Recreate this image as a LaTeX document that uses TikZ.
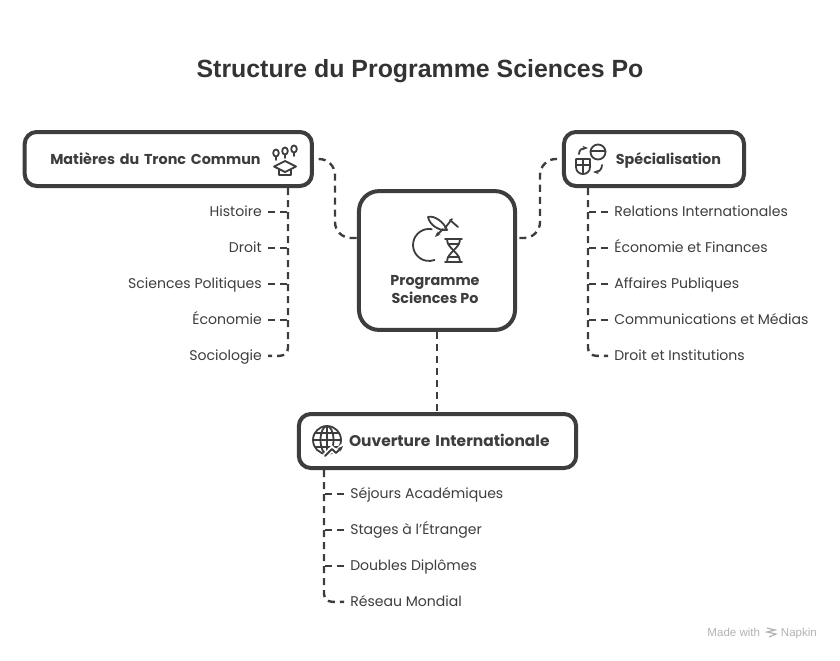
\documentclass[tikz,border=0pt]{standalone}
\usepackage{fontspec}
\setmainfont{Poppins}
\newfontfamily\titlefont{Liberation Sans}
\usetikzlibrary{calc,arrows.meta}
\tikzset{
	boxmain/.style={draw=black!76, fill=white, line width=1mm, rounded corners=0.3cm, minimum height=1.35cm, inner ysep=0pt, text height=2ex, text depth=0.5ex, font=\fontsize{10.2}{13}\selectfont\bfseries, text=black!76},
	boxitem/.style={inner sep=0.15cm, yshift=-0.02cm, text height=1.7ex, text depth=0.5ex, font=\fontsize{10}{12}\selectfont, text=black!76},
	link/.style={line width=0.6mm, color=black!76, dash pattern=on 1.75mm off 1.25mm},
	trunk/.style={link, rounded corners=0.2cm},
	icon/.style={line width=0.45mm, color=black!76, line cap=round, line join=round}
}

\begin{document}
\begin{tikzpicture}[x=0.025cm, y=-0.025cm]
		%%%%% START %%%%%
		\useasboundingbox (0, 0) rectangle (840, 660);
		
		\node[font=\titlefont\fontsize{17.7}{20}\selectfont\bfseries, text=black!80] (title) at (420, 71) {Structure du Programme Sciences Po};
		
		\node[boxmain, minimum width=7.18cm, text width=5.9cm, inner xsep=0.64cm, align=left] (tronc) at (168.3, 159) {Matières du Tronc Commun};
		\node[boxmain, minimum width=4.5cm, text width=3.35cm, inner xsep=0.575cm, align=right] (special) at (654, 159) {Spécialisation};
		\node[boxmain, minimum width=3.9cm, minimum height=3.47cm, rounded corners=0.5cm] (prog) at (437, 260.5) {};
		\node[boxmain, minimum width=6.93cm, text width=5.6cm, inner xsep=0.665cm, align=right, font=\fontsize{11}{13}\selectfont\bfseries] (ouverture) at (437.5, 441) {Ouverture Internationale};
		\node[boxmain, draw=none, fill=none, minimum height=0pt, align=center] (progtext) at (435, 298) {Programme\\Sciences Po};
		
		% left list
		\node[boxitem, anchor=east] (histoire) at (268, 211) {Histoire};
		\node[boxitem, anchor=east] (droit) at (268, 247) {Droit};
		\node[boxitem, anchor=east] (sciencespo) at (268, 283) {Sciences Politiques};
		\node[boxitem, anchor=east] (economie) at (268, 319) {Économie};
		\node[boxitem, anchor=east] (socio) at (268, 355) {Sociologie};
		\coordinate (troncdrop) at (288, 188);
		\draw[trunk] (troncdrop) |- (socio.east);
		\foreach \n in {histoire, droit, sciencespo, economie}
			\draw[link] (\n.east) -- (\n.east -| troncdrop);
		
		% right list
		\node[boxitem, anchor=west] (relations) at (608, 211) {Relations Internationales};
		\node[boxitem, anchor=west] (finances) at (608, 247) {Économie et Finances};
		\node[boxitem, anchor=west] (affaires) at (608, 283) {Affaires Publiques};
		\node[boxitem, anchor=west] (medias) at (608, 319) {Communications et Médias};
		\node[boxitem, anchor=west] (institutions) at (608, 355) {Droit et Institutions};
		\coordinate (specialdrop) at (588, 188);
		\draw[trunk] (specialdrop) |- (institutions.west);
		\foreach \n in {relations, finances, affaires, medias}
			\draw[link] (\n.west) -- (\n.west -| specialdrop);
		
		% bottom list
		\node[boxitem, anchor=west] (sejours) at (344, 493) {Séjours Académiques};
		\node[boxitem, anchor=west] (stages) at (344, 529) {Stages à l'Étranger};
		\node[boxitem, anchor=west] (doubles) at (344, 565) {Doubles Diplômes};
		\node[boxitem, anchor=west] (reseau) at (344, 601) {Réseau Mondial};
		\coordinate (ouverturedrop) at (324, 470);
		\draw[trunk] (ouverturedrop) |- (reseau.west);
		\foreach \n in {sejours, stages, doubles}
			\draw[link] (\n.west) -- (\n.west -| ouverturedrop);
		
		% links to the centre
		\coordinate (progleft) at (357, 238);
		\coordinate (progright) at (517, 238);
		\draw[link, rounded corners=0.4cm, shorten <=0.12cm] (tronc.east) -- (335, 159) -- (335, 238) -- (progleft);
		\draw[link, rounded corners=0.4cm, shorten <=0.12cm] (special.west) -- (540, 159) -- (540, 238) -- (progright);
		\draw[link] (prog.south) -- (prog.south |- ouverture.north);
		
		% cap icon
		\foreach \a/\b in {276/153, 285/151, 294/149}{
			\draw[icon] (\a, \b) circle [x radius=2.8, y radius=3.6];
			\draw[icon] (\a, \b+3.6) -- (\a, \b+7);
		}
		\draw[icon] (285, 161) -- (296, 166.5) -- (285, 172) -- (274, 166.5) -- cycle;
		\draw[icon] (279, 170) -- (279, 175) -- (291, 175) -- (291, 170);
		
		% specialisation icon
		\draw[icon] (598, 152) circle (7.5);
		\draw[icon] (590.5, 151) -- (605.5, 151);
		\draw[icon] (576, 159) -- (590, 159) -- (590, 167) .. controls (590, 172) and (586, 174) .. (583, 174) .. controls (580, 174) and (576, 172) .. (576, 167) -- cycle;
		\draw[icon] (576, 165) -- (590, 165);
		\draw[icon] (583, 159) -- (583, 174);
		\draw[icon, -{Stealth[length=1.4mm]}] (579, 154) .. controls (579, 150) and (582, 148) .. (588, 148);
		\draw[icon, -{Stealth[length=1.4mm]}] (602, 165) .. controls (602, 169) and (599, 172) .. (593, 172);
		
		% globe icon
		\draw[icon] (327, 440) circle (14);
		\draw[icon] (327, 440) circle [x radius=6.5, y radius=14];
		\draw[icon] (327, 426) -- (327, 454);
		\draw[icon] (313, 440) -- (341, 440);
		\draw[icon] (315, 433) -- (339, 433);
		\draw[icon] (315, 447) -- (339, 447);
		\draw[white, line width=1.4mm] (325, 456) -- (332, 449) -- (336, 453) -- (343, 446);
		\draw[icon, -{Stealth[length=1.4mm]}] (325, 456) -- (332, 449) -- (336, 453) -- (343, 446);
		
		% programme icon
		\draw[icon] (431.8, 229.2) arc (-80:-290:16);
		\draw[icon] (428, 217) .. controls (434, 215) and (444, 222) .. (447, 230) .. controls (440, 231) and (430, 226) .. (428, 217);
		\draw[icon, -{Stealth[length=1.4mm]}] (443, 229) -- (435, 237);
		\draw[icon] (445, 228) -- (452, 219);
		\draw[icon] (450, 220) -- (458, 227);
		\draw[icon] (445, 239) -- (462, 239);
		\draw[icon] (445, 262) -- (462, 262);
		\draw[icon] (447, 239) .. controls (447, 249) and (460, 252) .. (460, 262);
		\draw[icon] (460, 239) .. controls (460, 249) and (447, 252) .. (447, 262);
		\draw[icon] (448, 244) -- (459, 244);
		\draw[icon] (448, 257) -- (459, 257);
		
		% napkin mark
		\node[font=\titlefont\fontsize{8.2}{9}\selectfont, text=black!30, anchor=east, text height=1.7ex, text depth=0.5ex] (made) at (765, 632) {Made with};
		\node[font=\titlefont\fontsize{8.2}{9}\selectfont, text=black!30, anchor=west, text height=1.7ex, text depth=0.5ex] (napkin) at (776, 632) {Napkin};
		\draw[line width=0.3mm, color=black!30] (767, 628) -- (775, 630) -- (767, 632) -- (776, 634) -- (769, 637);
		%%%%% END %%%%%
	\end{tikzpicture}
\end{document}
